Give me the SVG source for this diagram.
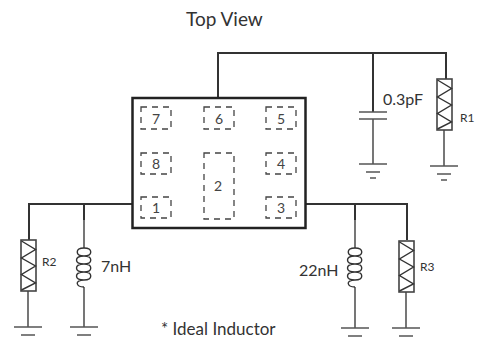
<svg xmlns="http://www.w3.org/2000/svg" width="477" height="340" viewBox="0 0 477 340">
<style>
text{font-family:Lato,"Liberation Sans",sans-serif;fill:#333}
.t{font-size:16px}.s{font-size:12px}.p{font-size:14px;text-anchor:middle;fill:#444}
.w{fill:none;stroke:#333;stroke-width:2}
.g{fill:none;stroke:#555;stroke-width:1.6}
.pad{fill:none;stroke:#444;stroke-width:1.300;stroke-dasharray:6 5}
.r{fill:#fff;stroke:#444;stroke-width:1.600}
.z{fill:none;stroke:#333;stroke-width:1.400}
</style>
<defs>
<g id="gnd" class="g"><path d="M-14 0H14M-7 8H7M-3 14H3"/></g>
<g id="res"><rect class="r" x="-7.500" y="0" width="15" height="51"/><path class="z" d="M-7 1L7 9.500L-7 18L7 26L-7 34.500L7 43L-7 50"/></g>
<path id="ind" class="z" d="M0 0C-9 0 -9 8 0 8C9 8 9 0 0 0M0 8C-10 8 -10 16 0 16C9 16 9 8 0 8M0 16C-10 16 -10 24 0 24C9 24 9 16 0 16M0 24C-10 24 -10 32 0 32C9 32 9 24 0 24M0 32C-10 32 -8 39 0 39"/>
</defs>
<g id="connectors">
<path class="w" d="M218 98V53H446V79"/>
<path class="w" d="M373 53V112"/>
<path class="g" d="M373 119V164M359 112H387M359 119H387"/>
<path class="g" d="M444 130V166"/>
<path class="w" d="M132 204H29V240"/>
<path class="w" d="M84 204V220"/>
<path class="g" d="M84 220V248M84 287V327M28 291V327"/>
<path class="w" d="M305 204H407V240"/>
<path class="w" d="M355 204V220"/>
<path class="g" d="M355 220V248M355 287V328M406 292V328"/>
</g>
<g id="title"><text class="t" style="font-size:19px" x="186" y="26">Top View</text></g>
<g id="chip">
<rect x="132.500" y="98" width="173" height="130" fill="#fff" stroke="#222" stroke-width="2.500"/>
<rect class="pad" x="141" y="107" width="30" height="22"/><text class="p" x="156" y="124">7</text>
<rect class="pad" x="204" y="107" width="30" height="22"/><text class="p" x="219" y="124">6</text>
<rect class="pad" x="266" y="107" width="30" height="22"/><text class="p" x="281" y="124">5</text>
<rect class="pad" x="141" y="153" width="30" height="21"/><text class="p" x="156" y="169">8</text>
<rect class="pad" x="204" y="153" width="30" height="66"/><text class="p" x="218" y="191">2</text>
<rect class="pad" x="266" y="153" width="30" height="21"/><text class="p" x="281" y="169">4</text>
<rect class="pad" x="141" y="197" width="30" height="21"/><text class="p" x="156" y="213">1</text>
<rect class="pad" x="266" y="197" width="30" height="21"/><text class="p" x="281" y="213">3</text>
</g>
<g id="c1"><text class="t" x="383" y="105">0.3pF</text><use href="#gnd" x="373" y="164"/></g>
<g id="r1"><use href="#res" x="444.500" y="79"/><text class="s" x="460" y="122">R1</text><use href="#gnd" x="444" y="166"/></g>
<g id="r2"><use href="#res" x="28.500" y="240"/><text class="s" x="42" y="266">R2</text><use href="#gnd" x="28" y="327"/></g>
<g id="l1"><use href="#ind" x="84" y="248"/><text class="t" x="101" y="272">7nH</text><use href="#gnd" x="84" y="327"/></g>
<g id="l2"><use href="#ind" x="355" y="248"/><text class="t" x="299" y="276">22nH</text><use href="#gnd" x="355" y="328"/></g>
<g id="r3"><use href="#res" x="406.500" y="241"/><text class="s" x="420" y="271">R3</text><use href="#gnd" x="406" y="328"/></g>
<g id="note"><text class="t" style="font-size:17px" x="161" y="335">* Ideal Inductor</text></g>
</svg>
